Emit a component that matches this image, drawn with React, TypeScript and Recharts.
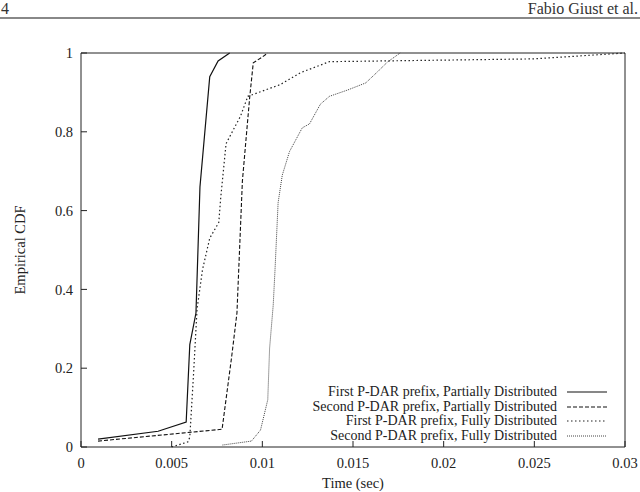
import { CartesianGrid, Label, Legend, Line, LineChart, XAxis, YAxis } from "recharts";

const FIRST_PARTIAL_T = [0.00094, 0.00425, 0.0058, 0.006, 0.00634, 0.00656, 0.0071, 0.00756, 0.0082];
const FIRST_PARTIAL_CDF = [0.02, 0.04, 0.063, 0.26, 0.34, 0.66, 0.94, 0.98, 1.0];

const SECOND_PARTIAL_T = [0.00094, 0.00778, 0.0083, 0.0086, 0.0089, 0.0093, 0.0095, 0.01, 0.0103];
const SECOND_PARTIAL_CDF = [0.015, 0.045, 0.226, 0.34, 0.675, 0.886, 0.975, 0.99, 1.0];

const FIRST_FULLY_T = [
  0.005, 0.0059, 0.006, 0.0062, 0.0064, 0.0067, 0.0071, 0.0076, 0.0077, 0.008, 0.0088, 0.0092, 0.011, 0.0121,
  0.0137, 0.0249, 0.029, 0.03,
];
const FIRST_FULLY_CDF = [
  0.0, 0.013, 0.025, 0.18, 0.35, 0.45, 0.53, 0.57, 0.63, 0.77, 0.84, 0.89, 0.92, 0.95, 0.978, 0.985, 0.997, 1.0,
];

const SECOND_FULLY_T = [
  0.0078, 0.0094, 0.0099, 0.0103, 0.0104, 0.0106, 0.0107, 0.01087, 0.0111, 0.0115, 0.0122, 0.0126, 0.0132, 0.0137,
  0.0147, 0.0157, 0.0163, 0.0169, 0.0176,
];
const SECOND_FULLY_CDF = [
  0.005, 0.015, 0.043, 0.12, 0.25, 0.36, 0.45, 0.62, 0.69, 0.75, 0.81, 0.82, 0.87, 0.89, 0.906, 0.924, 0.95, 0.977,
  1.0,
];

const X_TICKS = [0, 0.005, 0.01, 0.015, 0.02, 0.025, 0.03];
const Y_TICKS = [0, 0.2, 0.4, 0.6, 0.8, 1];

const SERIF = '"Liberation Serif", "DejaVu Serif", serif';

const toPoints = (t: number[], cdf: number[]) => t.map((v, i) => ({ t: v, cdf: cdf[i] }));

const SERIES = [
  { name: "First P-DAR prefix, Partially Distributed", data: toPoints(FIRST_PARTIAL_T, FIRST_PARTIAL_CDF), stroke: "#111", dash: undefined, width: 1.2 },
  { name: "Second P-DAR prefix, Partially Distributed", data: toPoints(SECOND_PARTIAL_T, SECOND_PARTIAL_CDF), stroke: "#111", dash: "4 2", width: 1.1 },
  { name: "First P-DAR prefix, Fully Distributed", data: toPoints(FIRST_FULLY_T, FIRST_FULLY_CDF), stroke: "#222", dash: "1.5 2.5", width: 1.2 },
  { name: "Second P-DAR prefix, Fully Distributed", data: toPoints(SECOND_FULLY_T, SECOND_FULLY_CDF), stroke: "#444", dash: "1 1", width: 1 },
];

const tickFont = { fontSize: 14.5, fill: "#222" };

function LegendBox() {
  return (
    <div style={{ fontFamily: SERIF, fontSize: 14, color: "#222", width: 330 }}>
      {SERIES.map((s) => (
        <div key={s.name} style={{ display: "flex", justifyContent: "flex-end", alignItems: "center", height: 14.5 }}>
          <span style={{ whiteSpace: "nowrap" }}>{s.name}</span>
          <svg width={40} height={10} style={{ marginLeft: 10 }}>
            <line x1={0} y1={5} x2={40} y2={5} stroke={s.stroke} strokeWidth={s.width} strokeDasharray={s.dash} />
          </svg>
        </div>
      ))}
    </div>
  );
}

const noTick = () => <g />;

export default function App() {
  return (
    <div style={{ position: "relative", width: 640, height: 492, overflow: "hidden", background: "#fff", fontFamily: SERIF }}>
      <style>{`body{margin:0} .recharts-wrapper text{font-family:${SERIF}}`}</style>
      <div style={{ position: "absolute", left: 1, top: 1, fontSize: 16, color: "#333", lineHeight: "16px" }}>4</div>
      <div style={{ position: "absolute", right: 2, top: 1, fontSize: 16, color: "#333", lineHeight: "16px", whiteSpace: "nowrap" }}>
        Fabio Giust et al.
      </div>
      <div style={{ position: "absolute", left: 0, top: 17, width: 640, height: 1.5, background: "#888" }} />
      <LineChart width={640} height={492} margin={{ top: 52, right: 14, bottom: 0, left: 0 }}>
        <CartesianGrid stroke="none" />
        <XAxis
          xAxisId="b"
          dataKey="t"
          type="number"
          domain={[0, 0.03]}
          ticks={X_TICKS}
          allowDataOverflow
          height={45}
          tickSize={-6}
          tickMargin={17}
          tick={tickFont}
          stroke="#222"
        >
          <Label value="Time (sec)" position="insideBottom" offset={4} style={{ fontSize: 14.5, fill: "#222" }} />
        </XAxis>
        <XAxis
          xAxisId="top"
          orientation="top"
          dataKey="t"
          type="number"
          domain={[0, 0.03]}
          ticks={X_TICKS}
          height={1}
          tickSize={-6}
          tick={noTick}
          stroke="#222"
        />
        <YAxis
          yAxisId="l"
          type="number"
          domain={[0, 1]}
          ticks={Y_TICKS}
          width={81}
          tickSize={-6}
          tickMargin={14}
          tick={tickFont}
          stroke="#222"
        >
          <Label
            content={({ viewBox }: any) => {
              const cx = 20;
              const cy = viewBox.y + viewBox.height / 2;
              return (
                <text x={cx} y={cy} transform={`rotate(-90 ${cx} ${cy})`} textAnchor="middle" dominantBaseline="central" style={{ fontSize: 14.5, fill: "#222" }}>
                  Empirical CDF
                </text>
              );
            }}
          />
        </YAxis>
        <YAxis
          yAxisId="r"
          orientation="right"
          type="number"
          domain={[0, 1]}
          ticks={Y_TICKS}
          width={1}
          tickSize={-6}
          tick={noTick}
          stroke="#222"
        />
        <Legend
          layout="vertical"
          align="center"
          verticalAlign="middle"
          content={() => <LegendBox />}
          wrapperStyle={{ left: 277, top: 385, width: 330 }}
        />
        {SERIES.map((s) => (
          <Line
            key={s.name}
            xAxisId="b"
            yAxisId="l"
            data={s.data}
            dataKey="cdf"
            name={s.name}
            type="linear"
            stroke={s.stroke}
            strokeWidth={s.width}
            strokeDasharray={s.dash}
            dot={false}
            activeDot={false}
            isAnimationActive={false}
          />
        ))}
      </LineChart>
    </div>
  );
}
